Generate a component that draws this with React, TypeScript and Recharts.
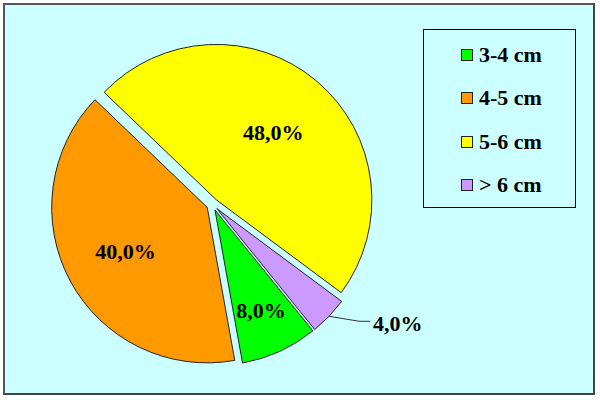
import React from 'react';
import { PieChart, Pie, Cell, Sector, Legend } from 'recharts';

const categories = ['3-4 cm', '4-5 cm', '5-6 cm', '> 6 cm'];
const shares = [8, 40, 48, 4];
const colors = ['#00FF00', '#FF9900', '#FFFF00', '#CC99FF'];

const data = categories.map((name, i) => ({ name, value: shares[i] }));

const RAD = Math.PI / 180;
const EXPLODE = 6;
const FONT = '"Liberation Serif", "Times New Roman", serif';

const explodedShape = (props: any) => {
  const mid = props.midAngle;
  const dx = EXPLODE * Math.cos(-mid * RAD);
  const dy = EXPLODE * Math.sin(-mid * RAD);
  return (
    <Sector
      cx={props.cx + dx}
      cy={props.cy + dy}
      innerRadius={props.innerRadius}
      outerRadius={props.outerRadius}
      startAngle={props.startAngle}
      endAngle={props.endAngle}
      fill={props.fill}
      stroke="#222"
      strokeWidth={1}
    />
  );
};

const fmt = (p: number) => (p * 100).toFixed(1).replace('.', ',') + '%';

const renderLabel = (props: any) => {
  const { cx, cy, midAngle, outerRadius, percent } = props;
  const cos = Math.cos(-midAngle * RAD);
  const sin = Math.sin(-midAngle * RAD);
  const ox = cx + EXPLODE * cos;
  const oy = cy + EXPLODE * sin;
  if (percent < 0.05) {
    const sx = ox + outerRadius * cos;
    const sy = oy + outerRadius * sin;
    const ex = sx + 30;
    const ey = sy + 5;
    return (
      <g>
        <polyline
          points={`${sx},${sy} ${ex},${ey} ${ex + 11},${ey}`}
          fill="none"
          stroke="#333"
          strokeWidth={1}
        />
        <text
          x={ex + 14}
          y={ey + 2}
          textAnchor="start"
          dominantBaseline="central"
          fontFamily={FONT}
          fontWeight="bold"
          fontSize={22}
          fill="#000"
        >
          {fmt(percent)}
        </text>
      </g>
    );
  }
  const r = outerRadius * (0.74 - 0.36 * percent);
  return (
    <text
      x={ox + r * cos}
      y={oy + r * sin}
      textAnchor="middle"
      dominantBaseline="central"
      fontFamily={FONT}
      fontWeight="bold"
      fontSize={22}
      fill="#000"
    >
      {fmt(percent)}
    </text>
  );
};

const LegendBox = () => (
  <div
    style={{
      width: 153,
      height: 179,
      boxSizing: 'border-box',
      border: '1px solid #000',
      paddingTop: 3,
      display: 'flex',
      flexDirection: 'column',
      justifyContent: 'space-around',
      fontFamily: FONT,
      fontWeight: 'bold',
      fontSize: 22,
      color: '#000',
    }}
  >
    {categories.map((c, i) => (
      <div key={c} style={{ display: 'flex', alignItems: 'center', paddingLeft: 37 }}>
        <span
          style={{
            display: 'inline-block',
            width: 12,
            height: 12,
            boxSizing: 'border-box',
            border: '1px solid #222',
            background: colors[i],
            marginRight: 6,
          }}
        />
        <span style={{ lineHeight: '24px' }}>{c}</span>
      </div>
    ))}
  </div>
);

export default function App() {
  return (
    <div style={{ position: 'absolute', left: 0, top: 0, width: 600, height: 400, background: '#fff' }}>
      <div
        style={{
          position: 'absolute',
          left: 3,
          top: 3,
          width: 592,
          height: 392,
          boxSizing: 'border-box',
          background: '#CCFFFF',
          borderTop: '2px solid #555',
          borderLeft: '2px solid #555',
          borderRight: '2px solid #444',
          borderBottom: '2px solid #444',
        }}
      />
      <div style={{ position: 'absolute', left: 0, top: 0 }}>
        <PieChart width={600} height={400} margin={{ top: 0, right: 0, bottom: 0, left: 0 }}>
          <Pie
            data={data}
            dataKey="value"
            nameKey="name"
            cx={212.5}
            cy={204.5}
            outerRadius={155.5}
            startAngle={-51}
            endAngle={-411}
            isAnimationActive={false}
            shape={explodedShape}
            label={renderLabel}
            labelLine={false}
            stroke="#222"
          >
            {data.map((d, i) => (
              <Cell key={d.name} fill={colors[i]} />
            ))}
          </Pie>
          <Legend
            content={() => <LegendBox />}
            wrapperStyle={{ position: 'absolute', left: 423, top: 29, width: 153, height: 179 }}
          />
        </PieChart>
      </div>
    </div>
  );
}
